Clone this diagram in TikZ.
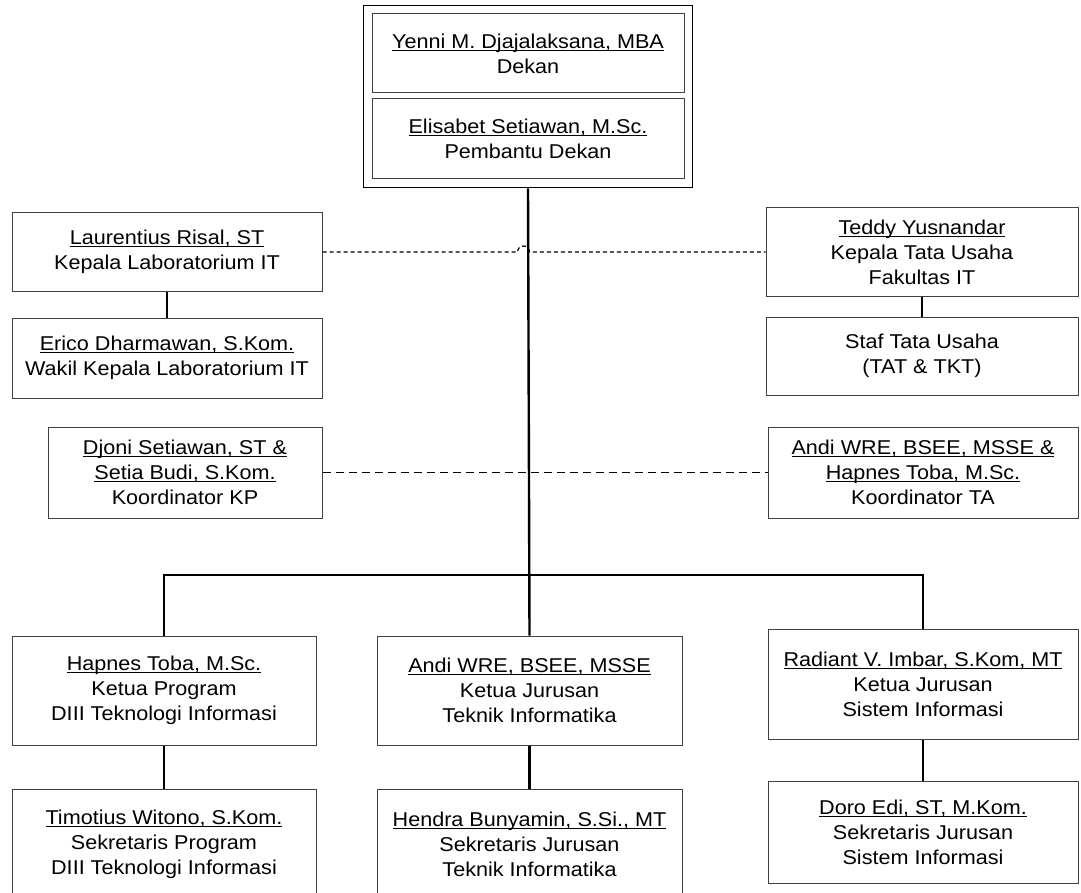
\documentclass[tikz,border=0pt]{standalone}
\usepackage{fontspec}
\setmainfont{Liberation Sans}[FakeStretch=1.08]
\usetikzlibrary{fit, calc}

\newsavebox{\namabox}
\newcommand{\nama}[1]{\sbox{\namabox}{#1}\rlap{\rule[-1.3pt]{\wd\namabox}{0.5pt}}\usebox{\namabox}}

\begin{document}
\begin{tikzpicture}[
    x=0.5pt, y=-0.5pt,
    every node/.style={font=\fontsize{10}{12.5}\selectfont},
    unit/.style={rectangle, draw=black!75, line width=0.5pt, align=center, inner sep=2pt},
    frame/.style={rectangle, draw=black, line width=0.8pt, inner sep=4pt},
    link/.style={line width=1.2pt, black},
    coord/.style={draw=black, line width=0.6pt, dash pattern=on 2pt off 1.5pt},
    koor/.style={draw=black, line width=0.55pt, dash pattern=on 4pt off 2.5pt},
  ]
    \useasboundingbox (0,0) rectangle (1081,893);
    % pimpinan fakultas
    \node[unit, minimum width=156pt, minimum height=39.5pt] (dekan) at (528,53.5)
      {\nama{Yenni M. Djajalaksana, MBA}\\Dekan};
    \node[unit, minimum width=156pt, minimum height=40pt] (pd) at (528,139)
      {\nama{Elisabet Setiawan, M.Sc.}\\Pembantu Dekan};
    \node[frame, fit=(dekan)(pd)] (top) {};
    % laboratorium dan tata usaha
    \node[unit, minimum width=155pt, minimum height=39pt] (lab) at (167,252)
      {\nama{Laurentius Risal, ST}\\Kepala Laboratorium IT};
    \node[unit, minimum width=155pt, minimum height=40pt] (wlab) at (167,358)
      {\nama{Erico Dharmawan, S.Kom.}\\Wakil Kepala Laboratorium IT};
    \node[unit, minimum width=156pt, minimum height=44pt] (tu) at (922,252)
      {\nama{Teddy Yusnandar}\\Kepala Tata Usaha\\Fakultas IT};
    \node[unit, minimum width=156pt, minimum height=39pt] (staf) at (922,356)
      {Staf Tata Usaha\\(TAT \& TKT)};
    % koordinator
    \node[unit, minimum width=137pt, minimum height=45.5pt] (kp) at (185,472.5)
      {\nama{Djoni Setiawan, ST \&}\\\nama{Setia Budi, S.Kom.}\\Koordinator KP};
    \node[unit, minimum width=155pt, minimum height=45.5pt] (ta) at (923,472.5)
      {\nama{Andi WRE, BSEE, MSSE \&}\\\nama{Hapnes Toba, M.Sc.}\\Koordinator TA};
    % jurusan dan program
    \node[unit, minimum width=152pt, minimum height=54.5pt] (kprog) at (164,690.5)
      {\nama{Hapnes Toba, M.Sc.}\\Ketua Program\\DIII Teknologi Informasi};
    \node[unit, minimum width=152.5pt, minimum height=54.5pt] (ktif) at (529.5,690.5)
      {\nama{Andi WRE, BSEE, MSSE}\\Ketua Jurusan\\Teknik Informatika};
    \node[unit, minimum width=155pt, minimum height=55pt] (ksi) at (923,684)
      {\nama{Radiant V. Imbar, S.Kom, MT}\\Ketua Jurusan\\Sistem Informasi};
    \node[unit, minimum width=152pt, minimum height=55pt] (sprog) at (164,844.5)
      {\nama{Timotius Witono, S.Kom.}\\Sekretaris Program\\DIII Teknologi Informasi};
    \node[unit, minimum width=152.5pt, minimum height=55pt] (stif) at (529.5,844.5)
      {\nama{Hendra Bunyamin, S.Si., MT}\\Sekretaris Jurusan\\Teknik Informatika};
    \node[unit, minimum width=155pt, minimum height=51pt] (ssi) at (923,832)
      {\nama{Doro Edi, ST, M.Kom.}\\Sekretaris Jurusan\\Sistem Informasi};
    % garis komando
    \coordinate (bus) at (529.5,575);
    \coordinate (hop) at (529.5,252);
    \draw[link] (top.south) -- (ktif.north);
    \draw[link] (kprog.north) |- (bus) -| (ksi.north);
    \foreach \a/\b in {lab/wlab, tu/staf, kprog/sprog, ktif/stif, ksi/ssi}
      \draw[link] (\a.south) -- (\b.north);
    % garis koordinasi
    \draw[coord] (lab.east) -- ([xshift=-6]hop) arc[start angle=180, end angle=360, radius=6] -- (tu.west);
    \draw[koor] (kp.east) -- (ta.west);
\end{tikzpicture}
\end{document}
